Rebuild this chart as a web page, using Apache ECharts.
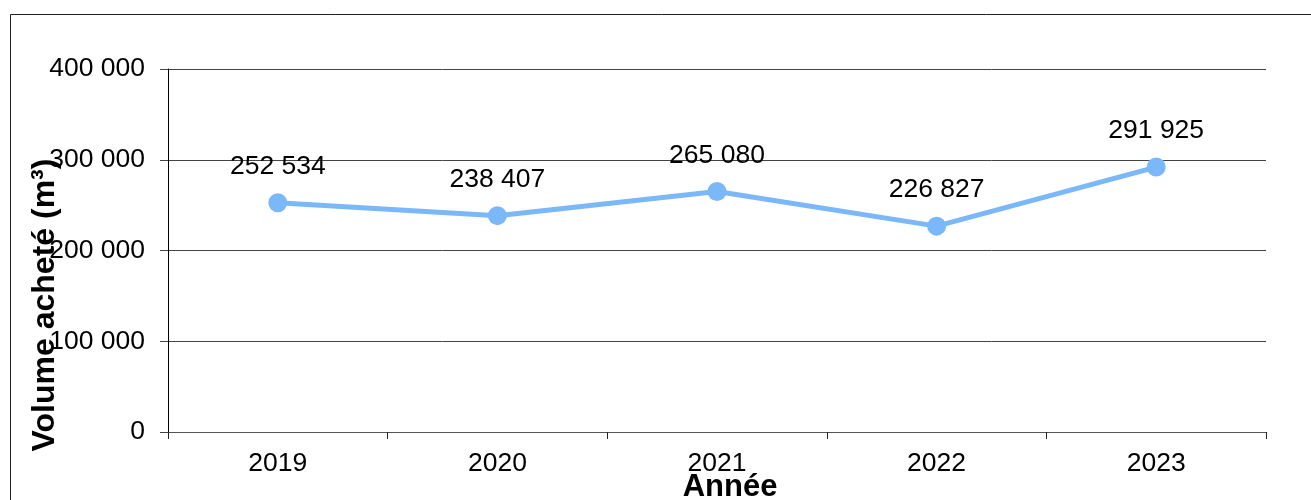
<!DOCTYPE html>
<html>
<head>
<meta charset="utf-8">
<script src="https://cdn.jsdelivr.net/npm/echarts@6/dist/echarts.min.js"></script>
<style>
html,body{margin:0;padding:0;background:#fff;}
#chart{width:1311px;height:500px;}
</style>
</head>
<body>
<div id="chart"></div>
<script>
const categories = ['2019', '2020', '2021', '2022', '2023'];
const volumes = [252534, 238407, 265080, 226827, 291925];
const yTicks = [0, 100000, 200000, 300000, 400000];
const yTitle = 'Volume acheté (m³)';
const xTitle = 'Année';

function fmt(v) {
  return String(Math.round(v)).replace(/\B(?=(\d{3})+(?!\d))/g, ' ');
}

const FONT = '"Liberation Sans", Arial, sans-serif';
const chart = echarts.init(document.getElementById('chart'), null, {renderer: 'canvas'});
chart.setOption({
  animation: false,
  backgroundColor: '#fff',
  grid: {left: 168, right: 45, top: 69, bottom: 68, containLabel: false},
  xAxis: {
    type: 'category',
    data: categories,
    boundaryGap: true,
    axisLine: {show: true, lineStyle: {color: '#555', width: 1}},
    axisTick: {show: true, length: 7, alignWithLabel: false, lineStyle: {color: '#222'}},
    axisLabel: {color: '#000', fontSize: 26.5, fontFamily: FONT, margin: 18}
  },
  yAxis: {
    type: 'value',
    min: yTicks[0],
    max: yTicks[yTicks.length - 1],
    interval: yTicks[1] - yTicks[0],
    axisLine: {show: true, lineStyle: {color: '#000', width: 1}},
    axisTick: {show: true, length: 8, lineStyle: {color: '#444'}},
    splitLine: {show: true, lineStyle: {color: '#444', width: 1}},
    axisLabel: {color: '#000', fontSize: 26.5, fontFamily: FONT, margin: 23, formatter: fmt}
  },
  graphic: [
    {type: 'rect', shape: {x: 10.5, y: 14.5, width: 1400, height: 600}, style: {fill: 'none', stroke: '#222', lineWidth: 1}, silent: true, z: -10},
    {type: 'text', x: 45, y: 305, rotation: Math.PI / 2,
      style: {text: yTitle, font: 'bold 32px ' + FONT, fill: '#000', align: 'center', verticalAlign: 'middle'}},
    {type: 'text', x: 730, y: 487,
      style: {text: xTitle, font: 'bold 31px ' + FONT, fill: '#000', align: 'center', verticalAlign: 'middle'}}
  ],
  series: [{
    type: 'line',
    data: volumes,
    symbol: 'circle',
    symbolSize: 19,
    lineStyle: {color: '#7ab8f9', width: 5},
    itemStyle: {color: '#7ab8f9'},
    label: {show: true, position: 'top', distance: 13, color: '#000', fontSize: 26.5, fontFamily: FONT,
      formatter: p => fmt(p.value)}
  }]
});
</script>
</body>
</html>
